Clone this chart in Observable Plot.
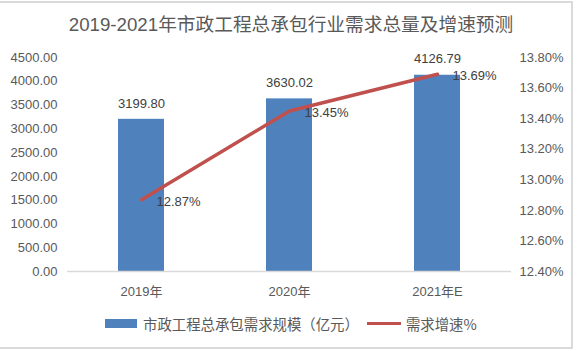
<!DOCTYPE html>
<html>
<head>
<meta charset="utf-8">
<script src="https://cdn.jsdelivr.net/npm/d3@7"></script>
<script src="https://cdn.jsdelivr.net/npm/@observablehq/plot@0.6"></script>
<style>
  html, body { margin: 0; padding: 0; background: #fff; }
  #chart { position: relative; width: 580px; height: 351px; overflow: hidden;
    font-family: "Liberation Sans", "Noto Sans CJK SC", sans-serif; }
  #frame { position: absolute; left: -2px; top: 1px; width: 573px; height: 344px;
    border-top: 2px solid #dadada; border-right: 2px solid #dadada; border-bottom: 2px solid #dadada; box-sizing: content-box; }
  #title { position: absolute; left: 0; top: 15px; width: 582px; text-align: center;
    font-size: 18.7px; line-height: 20px; color: #595959;
    font-family: "Liberation Sans", "Noto Sans CJK SC", sans-serif; }
  #plot { position: absolute; left: 0; top: 40px; }
  #legend { position: absolute; left: 105px; top: 313px; height: 20px; display: flex; align-items: center;
    font-size: 14.4px; color: #595959; font-family: "Noto Sans CJK SC", sans-serif; }
  .sw-bar { width: 32px; height: 9px; background: #4F81BD; margin-right: 6px; }
  .sw-line { width: 34px; height: 3px; background: #C0504D; margin-left: 8px; margin-right: 5px; }
</style>
</head>
<body>
<div id="chart">
  <div id="frame"></div>
  <div id="title"></div>
  <div id="plot"></div>
  <div id="legend"></div>
</div>
<script>
const titleText = "2019-2021年市政工程总承包行业需求总量及增速预测";
const categories = ["2019年", "2020年", "2021年E"];
const demand = [3199.80, 3630.02, 4126.79];
const growth = [12.87, 13.45, 13.69];
const leftTicks = [0, 500, 1000, 1500, 2000, 2500, 3000, 3500, 4000, 4500];
const rightTicks = [12.4, 12.6, 12.8, 13.0, 13.2, 13.4, 13.6, 13.8];
const seriesNames = ["市政工程总承包需求规模（亿元）", "需求增速%"];

const yMax = 4500, rMin = 12.4, rMax = 13.8;
const toY = r => (r - rMin) / (rMax - rMin) * yMax;
const fromY = v => v / yMax * (rMax - rMin) + rMin;

const data = categories.map((c, i) => ({cat: c, demand: demand[i], growth: growth[i], gy: toY(growth[i])}));

document.getElementById("title").textContent = titleText;

const chart = Plot.plot({
  width: 580,
  height: 270,
  marginTop: 17,
  marginBottom: 39,
  marginLeft: 67,
  marginRight: 69,
  style: {fontFamily: "'Liberation Sans', 'Noto Sans CJK SC', sans-serif", fontSize: "13px", color: "#595959", background: "transparent"},
  x: {domain: categories, paddingInner: 0.69, paddingOuter: 0.345, label: null},
  y: {domain: [0, yMax], label: null},
  marks: [
    Plot.barY(data, {x: "cat", y: "demand", fill: "#4F81BD"}),
    Plot.ruleY([0], {stroke: "#d9d9d9", strokeWidth: 1.5}),
    Plot.axisY(leftTicks, {anchor: "left", tickSize: 0, tickPadding: 10, tickFormat: d => d.toFixed(2), label: null, fill: "#595959"}),
    Plot.axisY(rightTicks.map(toY), {anchor: "right", tickSize: 0, tickPadding: 8, tickFormat: v => fromY(v).toFixed(2) + "%", label: null, fill: "#595959"}),
    Plot.axisX({tickSize: 0, tickPadding: 15, label: null, fill: "#595959"}),
    Plot.line(data, {x: "cat", y: "gy", stroke: "#C0504D", strokeWidth: 3.5, strokeLinecap: "round"}),
    Plot.text(data, {x: "cat", y: "demand", text: d => d.demand.toFixed(2), dy: -16, fill: "#404040", fontSize: 13}),
    Plot.text(data, {x: "cat", y: "gy", text: d => d.growth.toFixed(2) + "%", textAnchor: "start", dx: 15, dy: 2, fill: "#404040", fontSize: 13})
  ]
});
document.getElementById("plot").appendChild(chart);

const legend = document.getElementById("legend");
legend.innerHTML = `<div class="sw-bar"></div><span>${seriesNames[0]}</span><div class="sw-line"></div><span>${seriesNames[1]}</span>`;
</script>
</body>
</html>
